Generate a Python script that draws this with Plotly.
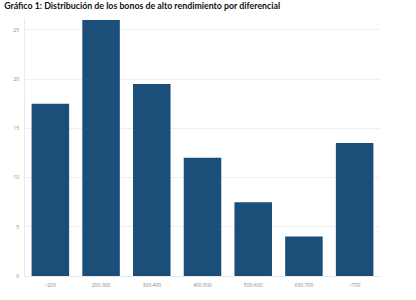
import plotly.graph_objects as go

categories = ["<200", "200-300", "300-400", "400-500", "500-600", "600-700", ">700"]
values = [17.5, 26.0, 19.5, 12.0, 7.5, 4.0, 13.5]
y_ticks = [0, 5, 10, 15, 20, 25]

fig = go.Figure(go.Bar(x=categories, y=values, marker=dict(color="#1b4f79", line=dict(width=0))))

fig.update_layout(
    width=416, height=300,
    margin=dict(l=25, r=36, t=18, b=20),
    paper_bgcolor="white", plot_bgcolor="white",
    bargap=0.26,
    showlegend=False,
    title=dict(text="<b>Gráfico 1: Distribución de los bonos de alto rendimiento por diferencial</b>",
               x=0.01, xanchor="left", y=0.992, yanchor="top",
               font=dict(family="Lato", size=8.8, color="#111111")),
    font=dict(family="Open Sans", size=5, color="#888888"),
)
fig.update_xaxes(showgrid=False, showline=True, linecolor="#e8e8e8", linewidth=1,
                 ticks="", tickfont=dict(size=5, color="#888888"), ticklabelstandoff=4)
fig.update_yaxes(range=[0, 26.2], tickvals=y_ticks, showgrid=True, gridcolor="#efefef", gridwidth=1,
                 showline=True, linecolor="#f0e8e8", linewidth=1, zeroline=False,
                 ticks="", tickfont=dict(size=5, color="#888888"), ticklabelstandoff=4)

fig.write_html("out.html")
